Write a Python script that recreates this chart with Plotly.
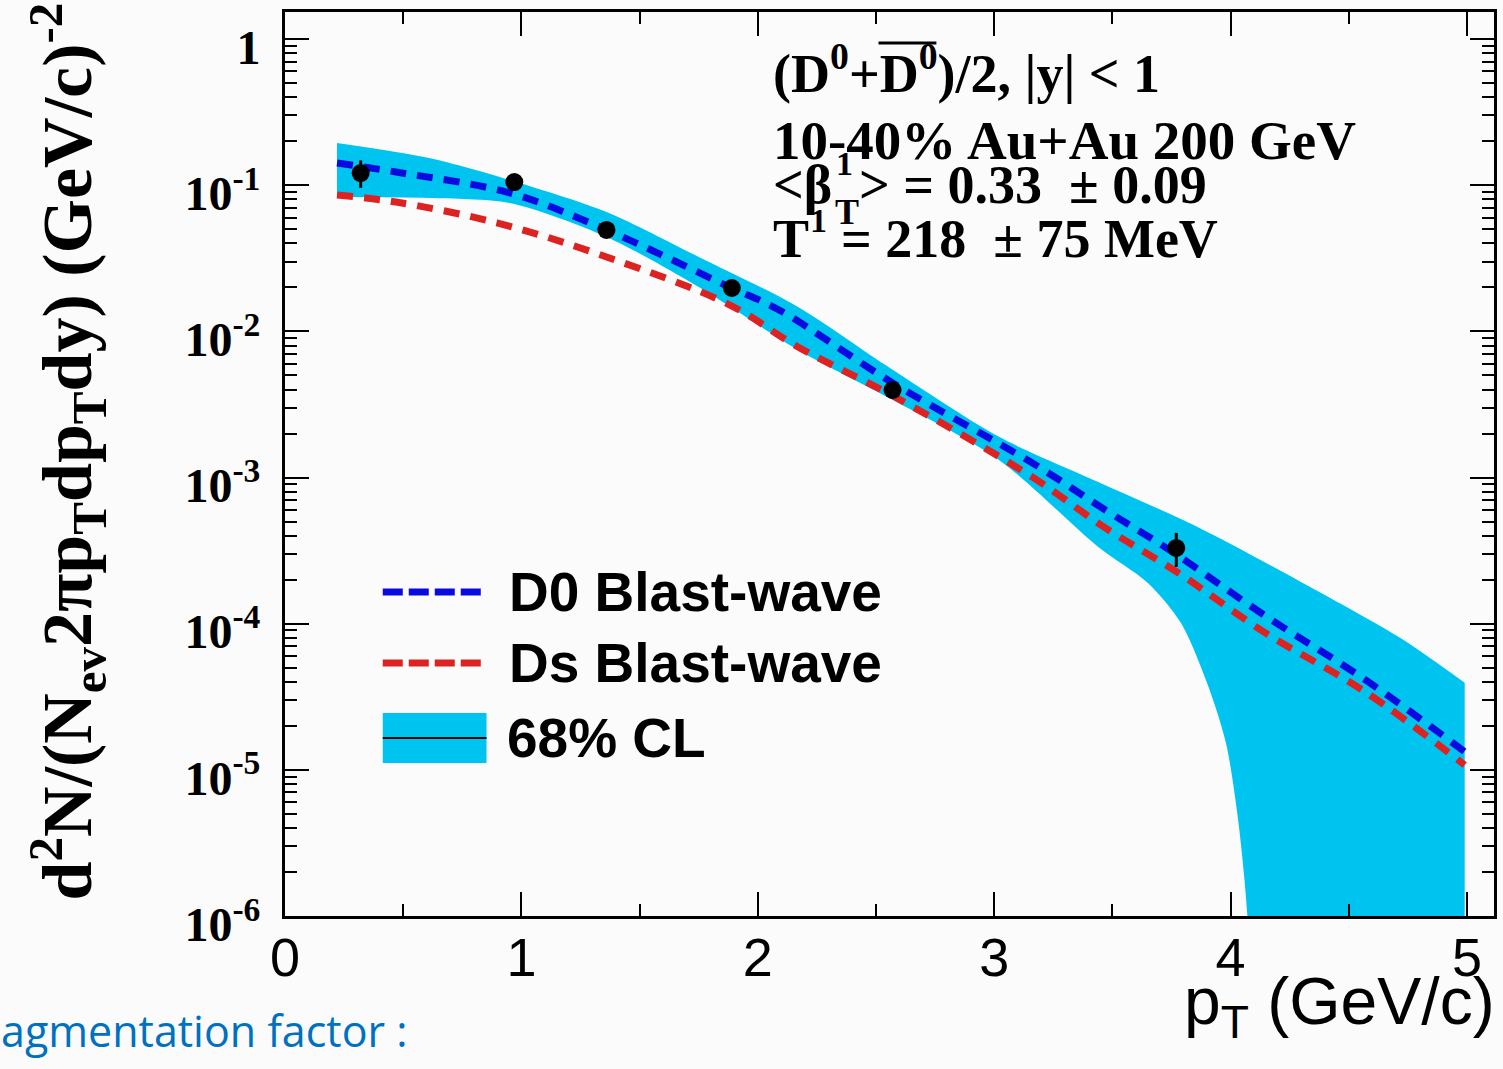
import plotly.graph_objects as go

# ---------------- data ----------------
# measured (D0+D0bar)/2 points
pt_data = [0.32, 0.97, 1.36, 1.89, 2.57, 3.77]
yield_data = [0.121, 0.105, 0.0494, 0.0198, 0.00397, 3.3e-4]
err_up = [0.027, 0.012, 0.004, 0.0015, 0.0003, 0.88e-4]
err_down = [0.025, 0.011, 0.004, 0.0015, 0.0003, 0.85e-4]

# D0 blast-wave curve
d0_pt = [0.22, 0.47, 0.95, 1.36, 1.88, 2.09, 2.57, 3.16, 3.47, 3.76, 4.14, 4.57, 4.99]
d0_bw = [0.142, 0.123, 0.0885, 0.0494, 0.0201, 0.0140, 0.00444, 0.00126, 6.0e-4, 3.05e-4, 1.15e-4, 4.13e-5, 1.33e-5]

# Ds blast-wave curve
ds_pt = [0.22, 0.47, 0.90, 1.36, 1.88, 2.17, 2.58, 3.16, 3.47, 3.78, 4.14, 4.57, 4.99]
ds_bw = [0.0857, 0.0767, 0.0551, 0.0323, 0.0152, 0.00782, 0.00356, 0.00101, 4.52e-4, 2.22e-4, 8.79e-5, 3.41e-5, 1.08e-5]

# 68% CL band edges
cl_up_pt = [0.22, 0.61, 0.95, 1.36, 1.75, 2.17, 2.54, 3.02, 3.44, 3.86, 4.28, 4.71, 4.99]
cl_up = [0.1945, 0.1535, 0.1086, 0.0656, 0.0323, 0.0147, 0.00589, 0.00190, 9.33e-4, 4.59e-4, 2.0e-4, 8.13e-5, 3.94e-5]
cl_lo_pt = [0.22, 0.61, 0.95, 1.36, 1.75, 2.17, 2.57, 3.02, 3.44, 3.65, 3.79, 3.90, 3.98, 4.03, 4.07, 4.09, 4.99]
cl_lo = [0.0830, 0.0817, 0.0755, 0.0443, 0.0201, 0.00746, 0.00340, 0.00132, 3.35e-4, 1.90e-4, 1.01e-4, 3.94e-5, 1.53e-5, 4.78e-6, 1.05e-6, 1e-7, 1e-7]

x_ticks = [0, 1, 2, 3, 4, 5]
x_ticktext = ["0", "1", "2", "3", "4", "5"]
x_minor = [0.5, 1.5, 2.5, 3.5, 4.5]
y_ticks = [1e-6, 1e-5, 1e-4, 1e-3, 1e-2, 1e-1, 1]
y_ticktext = ["10<sup>-6</sup>", "10<sup>-5</sup>", "10<sup>-4</sup>", "10<sup>-3</sup>",
              "10<sup>-2</sup>", "10<sup>-1</sup>", "1"]
y_minor = [k * 10.0 ** e for e in range(-6, 0) for k in range(2, 10)]

# ---------------- style ----------------
W, H = 1503, 1069
L, R, T, B = 285, 1497, 12, 916
BG = "#fbfbfb"
CYAN = "#00c4f0"
BLUE = "#0a0ae0"
RED = "#dd2222"
SERIF = "Liberation Serif"
SANS = "Liberation Sans"


def px(x):
    return (x - L) / (R - L)


def py(y):
    return (B - y) / (B - T)


fig = go.Figure()

# band
fig.add_trace(go.Scatter(x=cl_lo_pt, y=cl_lo, mode="lines",
                         line=dict(width=0, shape="spline", smoothing=0.8, color=CYAN),
                         hoverinfo="skip"))
fig.add_trace(go.Scatter(x=cl_up_pt, y=cl_up, mode="lines", fill="tonexty",
                         fillcolor=CYAN,
                         line=dict(width=0, shape="spline", smoothing=0.8, color=CYAN),
                         hoverinfo="skip"))
# curves
fig.add_trace(go.Scatter(x=ds_pt, y=ds_bw, mode="lines",
                         line=dict(color=RED, width=7, dash="16px,11px", shape="spline")))
fig.add_trace(go.Scatter(x=d0_pt, y=d0_bw, mode="lines",
                         line=dict(color=BLUE, width=7, dash="16px,11px", shape="spline")))
# points
fig.add_trace(go.Scatter(x=pt_data, y=yield_data, mode="markers",
                         marker=dict(color="black", size=18),
                         error_y=dict(type="data", symmetric=False, array=err_up,
                                      arrayminus=err_down, thickness=3, width=0,
                                      color="black")))

fig.update_layout(
    width=W, height=H,
    margin=dict(l=L, r=W - R, t=T, b=H - B, pad=0),
    paper_bgcolor=BG, plot_bgcolor=BG,
    showlegend=False,
)

fig.update_xaxes(
    range=[0, 5.114], showgrid=False, zeroline=False,
    showline=True, linewidth=3, linecolor="black", mirror="allticks",
    ticks="inside", ticklen=24, tickwidth=2, tickcolor="black",
    tickvals=x_ticks, ticktext=x_ticktext,
    tickfont=dict(family=SANS, size=54, color="black"),
    ticklabelstandoff=-8,
    minor=dict(tickvals=x_minor, ticks="inside", ticklen=12, tickwidth=2,
               tickcolor="black", showgrid=False),
)
fig.update_yaxes(
    type="log", range=[-6, 0.185], showgrid=False, zeroline=False,
    showline=True, linewidth=3, linecolor="black", mirror="allticks",
    ticks="inside", ticklen=24, tickwidth=2, tickcolor="black",
    tickvals=y_ticks, ticktext=y_ticktext,
    tickfont=dict(family=SERIF, size=48, color="black", weight="bold"),
    ticklabelstandoff=12, ticklabelshift=8,
    minor=dict(tickvals=y_minor, ticks="inside", ticklen=12, tickwidth=2,
               tickcolor="black", showgrid=False),
)

ann = []


def text(x, y, s, size, family=SERIF, bold=True, xanchor="left", color="black", angle=0):
    ann.append(dict(x=px(x), y=py(y), xref="paper", yref="paper", text=s,
                    showarrow=False, xanchor=xanchor, yanchor="middle",
                    textangle=angle,
                    font=dict(family=family, size=size, color=color,
                              weight="bold" if bold else "normal")))


shapes = []

# info block
text(772, 69, "(D<sup>0</sup>+D<sup>0</sup>)/2, |y| &lt; 1", 54)
# bar over the second D0 (anti-particle)
shapes.append(dict(type="line", xref="paper", yref="paper",
                   x0=px(880), x1=px(938), y0=py(43), y1=py(43),
                   line=dict(color="black", width=3)))
text(772, 140, "10-40% Au+Au 200 GeV", 55)
text(772, 185, "&lt;β", 54)
text(846, 163, "1", 34, xanchor="center")
text(858, 185, "&gt; = 0.33  ± 0.09", 54)
text(848, 212, "T", 36, xanchor="center")
text(772, 239, "T", 54)
text(820, 220, "1", 34, xanchor="center")
text(840, 239, "= 218  ± 75 MeV", 54)

# legend
legend_rows = [("D0 Blast-wave", BLUE, 592), ("Ds Blast-wave", RED, 663)]
for label, col, yy in legend_rows:
    shapes.append(dict(type="line", xref="paper", yref="paper",
                       x0=px(383), x1=px(482), y0=py(yy), y1=py(yy),
                       line=dict(color=col, width=7, dash="20px,6px")))
    text(508, yy, label, 55, family=SANS)
shapes.append(dict(type="rect", xref="paper", yref="paper",
                   x0=px(383), x1=px(487), y0=py(763), y1=py(713),
                   fillcolor=CYAN, line=dict(width=0)))
shapes.append(dict(type="line", xref="paper", yref="paper",
                   x0=px(383), x1=px(487), y0=py(738), y1=py(738),
                   line=dict(color="black", width=2)))
text(506, 738, "68% CL", 55, family=SANS)

# axis titles
text(1500, 1006, "p<sub>T</sub> (GeV/c)", 66, family=SANS, bold=False, xanchor="right")
text(66, 452, "d<sup>2</sup>N/(N<sub>ev</sub>2πp<sub>T</sub>dp<sub>T</sub>dy) (GeV/c)<sup>-2</sup>",
     70, xanchor="center", angle=-90)

# stray slide text
text(-2, 1030, "agmentation factor :", 43, family="Open Sans", bold=False, color="#0070c0")

fig.update_layout(annotations=ann, shapes=shapes)

fig.write_html("out.html", config={"displayModeBar": False},
               post_script="document.body.style.margin='0';")
